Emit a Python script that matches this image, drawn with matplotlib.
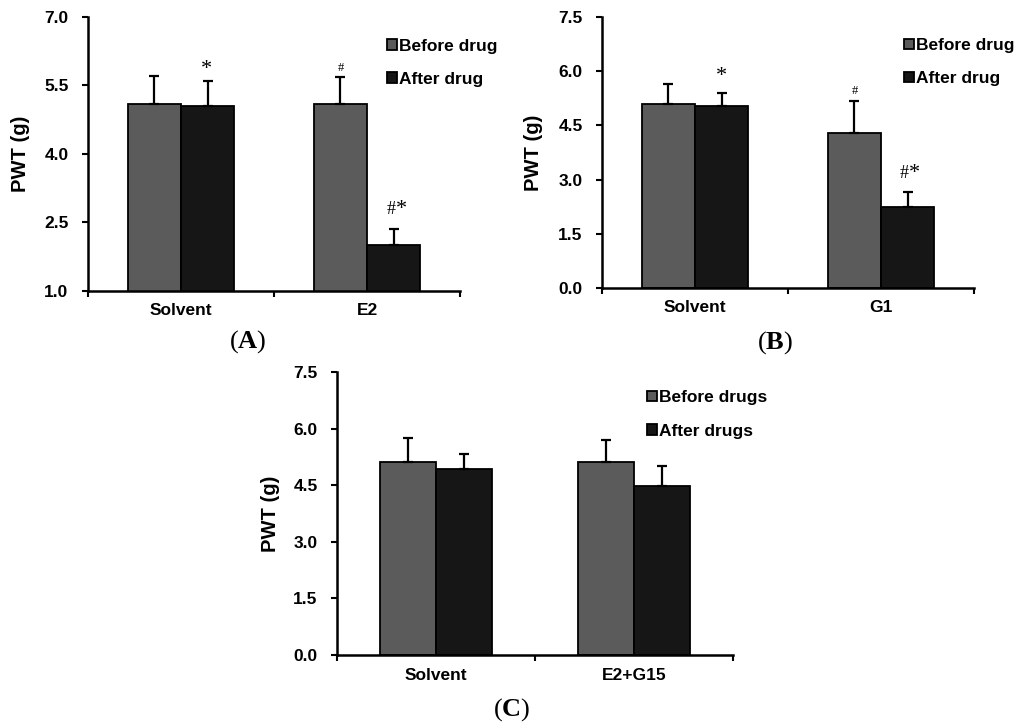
import numpy as np
import matplotlib
matplotlib.use('Agg')
import matplotlib.pyplot as plt

plt.rcParams['font.family'] = ['Liberation Sans', 'DejaVu Sans']
plt.rcParams['font.weight'] = 'bold'
plt.rcParams['mathtext.fontset'] = 'custom'
plt.rcParams['mathtext.rm'] = 'Liberation Serif'
plt.rcParams['mathtext.bf'] = 'Liberation Serif:bold'

# panel A
groups_a = ['Solvent', 'E2']
before_a = [5.09, 5.09]
before_a_err = [0.61, 0.60]
after_a = [5.04, 1.99]
after_a_err = [0.56, 0.36]

# panel B
groups_b = ['Solvent', 'G1']
before_b = [5.10, 4.30]
before_b_err = [0.55, 0.88]
after_b = [5.04, 2.24]
after_b_err = [0.35, 0.41]

# panel C
groups_c = ['Solvent', 'E2+G15']
before_c = [5.12, 5.12]
before_c_err = [0.62, 0.59]
after_c = [4.92, 4.48]
after_c_err = [0.40, 0.53]

BEFORE_COL = '#5b5b5b'
AFTER_COL = '#161616'


def bar_panel(ax, groups, before, before_err, after, after_err,
              ylim, yticks, labels, legend_pos, ylabel_x):
    x = np.arange(len(groups))
    w = 0.285
    ax.bar(x - w/2, before, w, color=BEFORE_COL, edgecolor='black',
           linewidth=1.3, label=labels[0], zorder=2)
    ax.bar(x + w/2, after, w, color=AFTER_COL, edgecolor='black',
           linewidth=1.3, label=labels[1], zorder=2)
    for xs, ys, es in [(x - w/2, before, before_err), (x + w/2, after, after_err)]:
        ax.errorbar(xs, ys, yerr=[np.zeros(len(es)), es], fmt='none',
                    ecolor='black', elinewidth=1.6, capsize=3.5,
                    capthick=1.6, zorder=3)
    ax.set_xlim(-0.5, len(groups) - 0.5)
    ax.set_ylim(*ylim)
    ax.set_yticks(yticks)
    ax.set_yticklabels([f'{t:.1f}' for t in yticks])
    ax.set_xticks(x)
    ax.set_xticklabels(groups)
    ax.set_xticks(np.arange(len(groups) + 1) - 0.5, minor=True)
    ax.tick_params(axis='x', which='major', length=0, pad=9, labelsize=12.5)
    ax.tick_params(axis='x', which='minor', length=4, width=1.5,
                   direction='out')
    ax.tick_params(axis='y', length=4, width=1.5, pad=10, labelsize=12.5)
    for s in ['top', 'right']:
        ax.spines[s].set_visible(False)
    for s in ['left', 'bottom']:
        ax.spines[s].set_linewidth(1.8)
    ax.set_ylabel('PWT (g)', fontsize=14.5, fontweight='bold')
    ax.yaxis.set_label_coords(ylabel_x, 0.5)
    ax.legend(loc='upper left', bbox_to_anchor=legend_pos, frameon=False,
              fontsize=12.5, handlelength=0.55, handleheight=0.55,
              handletextpad=0.15, labelspacing=1.05, borderpad=0,
              borderaxespad=0)
    return x, w


def mark(ax, xpos, ytop, text, size, dx, dy):
    # significance sign, placed by its baseline above the error bar
    ax.annotate(text, (xpos, ytop), xytext=(dx, dy),
                textcoords='offset pixels', ha='center', va='baseline',
                fontsize=size, family='Liberation Serif', fontweight='normal')


fig = plt.figure(figsize=(10.24, 7.27), dpi=100)

ax_a = fig.add_axes([88/1024, 1 - 290.7/727, 372/1024, 274/727])
x, w = bar_panel(ax_a, groups_a, before_a, before_a_err, after_a, after_a_err,
                 (1.0, 7.0), [1.0, 2.5, 4.0, 5.5, 7.0],
                 ['Before drug', 'After drug'], (0.804, 0.92), -0.156)
mark(ax_a, x[0] + w/2, after_a[0] + after_a_err[0], '*', 16, -1, 7)
mark(ax_a, x[1] - w/2, before_a[1] + before_a_err[1], '#', 9, 0, 6)
mark(ax_a, x[1] + w/2, after_a[1] + after_a_err[1], '#', 13, -2, 15)
mark(ax_a, x[1] + w/2, after_a[1] + after_a_err[1], '*', 16, 8, 15)

ax_b = fig.add_axes([602/1024, 1 - 288/727, 372/1024, 271/727])
x, w = bar_panel(ax_b, groups_b, before_b, before_b_err, after_b, after_b_err,
                 (0.0, 7.5), [0.0, 1.5, 3.0, 4.5, 6.0, 7.5],
                 ['Before drug', 'After drug'], (0.812, 0.922), -0.159)
mark(ax_b, x[0] + w/2, after_b[0] + after_b_err[0], '*', 16, 0, 12)
mark(ax_b, x[1] - w/2, before_b[1] + before_b_err[1], '#', 9, 0, 7)
mark(ax_b, x[1] + w/2, after_b[1] + after_b_err[1], '#', 13, -3, 14)
mark(ax_b, x[1] + w/2, after_b[1] + after_b_err[1], '*', 16, 7, 14)

ax_c = fig.add_axes([337/1024, 1 - 655/727, 396/1024, 283/727])
bar_panel(ax_c, groups_c, before_c, before_c_err, after_c, after_c_err,
          (0.0, 7.5), [0.0, 1.5, 3.0, 4.5, 6.0, 7.5],
          ['Before drugs', 'After drugs'], (0.783, 0.935), -0.144)

for lab, px, py in [('A', 248, 342), ('B', 775, 343), ('C', 512, 710)]:
    fig.text(px/1024, 1 - py/727, '($\\mathbf{' + lab + '}$)', ha='center',
             va='center', fontsize=19, family='Liberation Serif',
             fontweight='normal')

fig.savefig('out.png', dpi=100)
